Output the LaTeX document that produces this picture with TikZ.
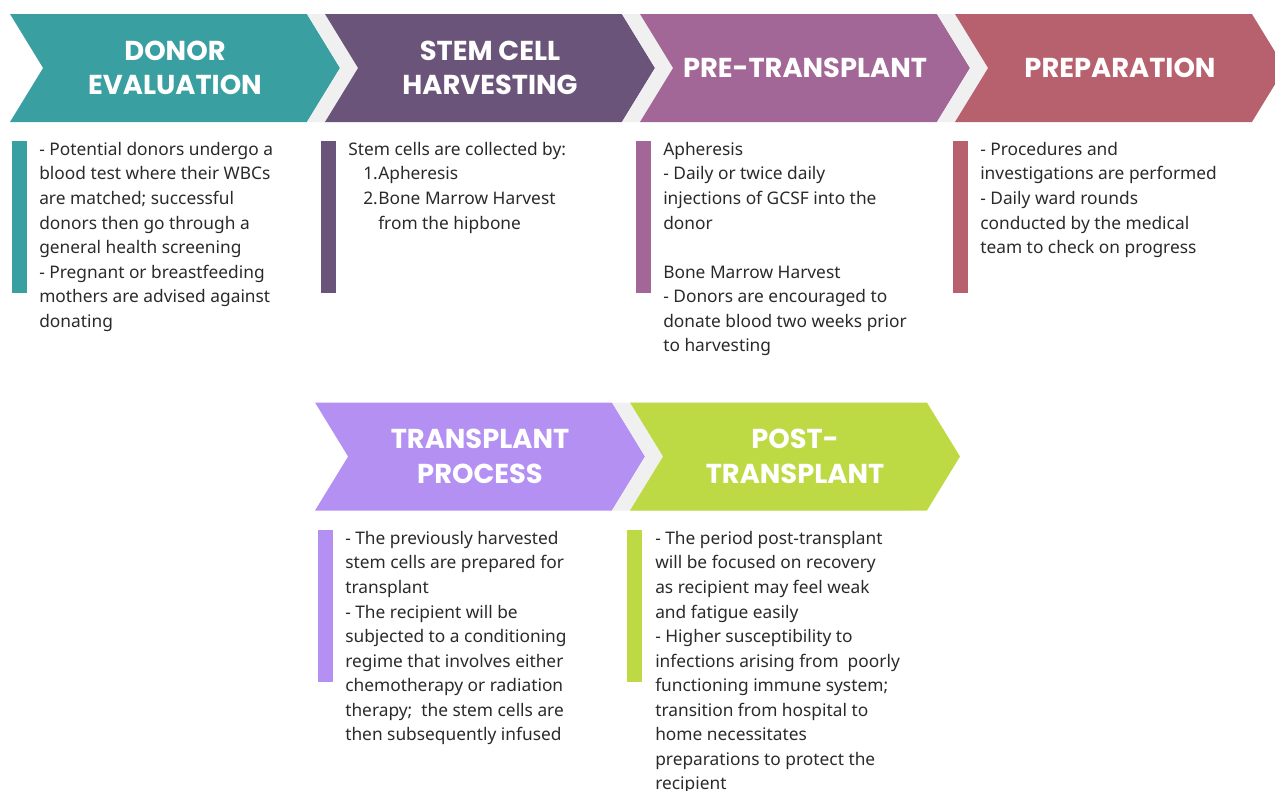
\documentclass[tikz,border=0pt]{standalone}
\usepackage{fontspec}
\setmainfont{Noto Sans}
\newfontfamily\headfont{Poppins}
\usetikzlibrary{shapes.symbols,shadows}
\definecolor{donorcol}{HTML}{3A9FA1}
\definecolor{harvcol}{HTML}{6B5479}
\definecolor{precol}{HTML}{A26796}
\definecolor{prepcol}{HTML}{B7616F}
\definecolor{transcol}{HTML}{B390F2}
\definecolor{postcol}{HTML}{BDDA45}
\definecolor{gapgray}{HTML}{F0F0F0}
\definecolor{bodytext}{HTML}{2A2A2A}
\begin{document}
\begin{tikzpicture}[x=0.75pt,y=-0.75pt,
  stage/.style={signal, signal from=west, signal to=east, signal pointer angle=117,
    minimum width=247.5pt, minimum height=81pt, inner sep=0pt, text=white, align=center,
    font=\headfont\bfseries\fontsize{20.5}{26}\selectfont},
  gap/.style={general shadow={fill=gapgray, shadow xshift=-13.5pt}},
  bar/.style={rectangle, minimum width=11pt, minimum height=114pt, inner sep=0pt},
  info/.style={anchor=north west, align=left, inner sep=0pt, text=bodytext,
    font=\fontsize{13}{18.4}\selectfont}]
\useasboundingbox (0,0) rectangle (1275,790);
% stages
\node[stage, fill=donorcol] (s1) at (175,68) {DONOR\\EVALUATION};
\node[stage, gap, fill=harvcol] (s2) at (490,68) {STEM CELL\\HARVESTING};
\node[stage, gap, fill=precol] (s3) at (805,68) {PRE-TRANSPLANT};
\node[stage, gap, fill=prepcol] (s4) at (1120,68) {PREPARATION};
\node[stage, fill=transcol] (s5) at (480,456.5) {TRANSPLANT\\PROCESS};
\node[stage, gap, fill=postcol] (s6) at (795,456.5) {POST-\\TRANSPLANT};
% bars
\node[bar, fill=donorcol] (b1) at (19.5,217) {};
\node[bar, fill=harvcol] (b2) at (328.5,217) {};
\node[bar, fill=precol] (b3) at (643.5,217) {};
\node[bar, fill=prepcol] (b4) at (960.5,217) {};
\node[bar, fill=transcol] (b5) at (325.5,606) {};
\node[bar, fill=postcol] (b6) at (634.5,606) {};
% texts
\node[info] (t1) at (39,142) {- Potential donors undergo a\\blood test where their WBCs\\are matched; successful\\donors then go through a\\general health screening\\- Pregnant or breastfeeding\\mothers are advised against\\donating};
\node[info] (t2) at (348,142) {Stem cells are collected by:\\
  \hspace*{11.25pt}\makebox[11.25pt][l]{1.}Apheresis\\
  \hspace*{11.25pt}\makebox[11.25pt][l]{2.}Bone Marrow Harvest\\
  \hspace*{22.5pt}from the hipbone};
\node[info] (t3) at (663,142) {Apheresis\\- Daily or twice daily\\injections of GCSF into the\\donor\\[18.4pt]Bone Marrow Harvest\\- Donors are encouraged to\\donate blood two weeks prior\\to harvesting};
\node[info] (t4) at (980,142) {- Procedures and\\investigations are performed\\- Daily ward rounds\\conducted by the medical\\team to check on progress};
\node[info] (t5) at (345,531) {- The previously harvested\\stem cells are prepared for\\transplant\\- The recipient will be\\subjected to a conditioning\\regime that involves either\\chemotherapy or radiation\\therapy;\ \ the stem cells are\\then subsequently infused};
\node[info] (t6) at (655,531) {- The period post-transplant\\will be focused on recovery\\as recipient may feel weak\\and fatigue easily\\- Higher susceptibility to\\infections arising from\ \ poorly\\functioning immune system;\\transition from hospital to\\home necessitates\\preparations to protect the\\recipient};
\end{tikzpicture}
\end{document}
